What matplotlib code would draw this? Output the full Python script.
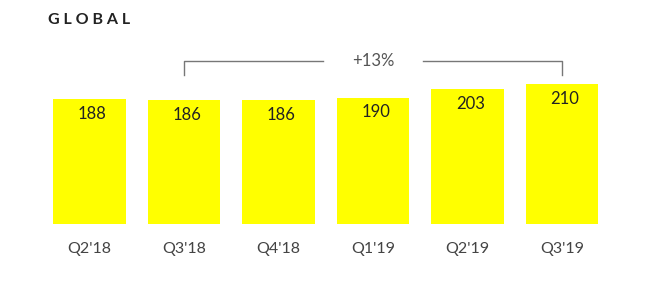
import matplotlib
matplotlib.use("Agg")
import matplotlib.pyplot as plt

quarters = ["Q2'18", "Q3'18", "Q4'18", "Q1'19", "Q2'19", "Q3'19"]
users = [188, 186, 186, 190, 203, 210]
growth_label = "+13%"
growth_from, growth_to = 1, 5

plt.rcParams['font.family'] = ['Lato', 'DejaVu Sans']

W, H = 652, 291
fig = plt.figure(figsize=(W/100, H/100), dpi=100)
base = 224
ax = fig.add_axes([0, (H-base)/H, 1, base/H])
ppu = 0.665
x = list(range(len(quarters)))
ax.bar(x, users, width=0.77, color="#ffff00")
ax.set_xlim(-89.5/94.5, (W-89.5)/94.5)
ax.set_ylim(0, base/ppu)
for s in ax.spines.values():
    s.set_visible(False)
ax.set_yticks([])
ax.set_xticks(x, quarters)
ax.tick_params(axis='x', length=0, pad=13, labelsize=11.5, labelcolor="#444444")

for xi, v in zip(x, users):
    ax.text(xi + 0.03, v - 22, str(v), ha='center', va='center', fontsize=12,
            color="#222222")

# bracket
yb = (base-61)/ppu
ye = (base-75)/ppu
xm = (growth_from + growth_to)/2
gap = 0.53
c = "#777777"
ax.plot([growth_from, growth_from, xm-gap], [ye, yb, yb], color=c, lw=1)
ax.plot([xm+gap, growth_to, growth_to], [yb, yb, ye], color=c, lw=1)
ax.text(xm, yb, growth_label, ha='center', va='center', fontsize=12,
        color="#555555")

fig.text(48/W, 1-20/H, "G L O B A L", ha='left', va='center', fontsize=11.5,
         fontweight='bold', color="#222222")

fig.savefig("out.png", dpi=100)
